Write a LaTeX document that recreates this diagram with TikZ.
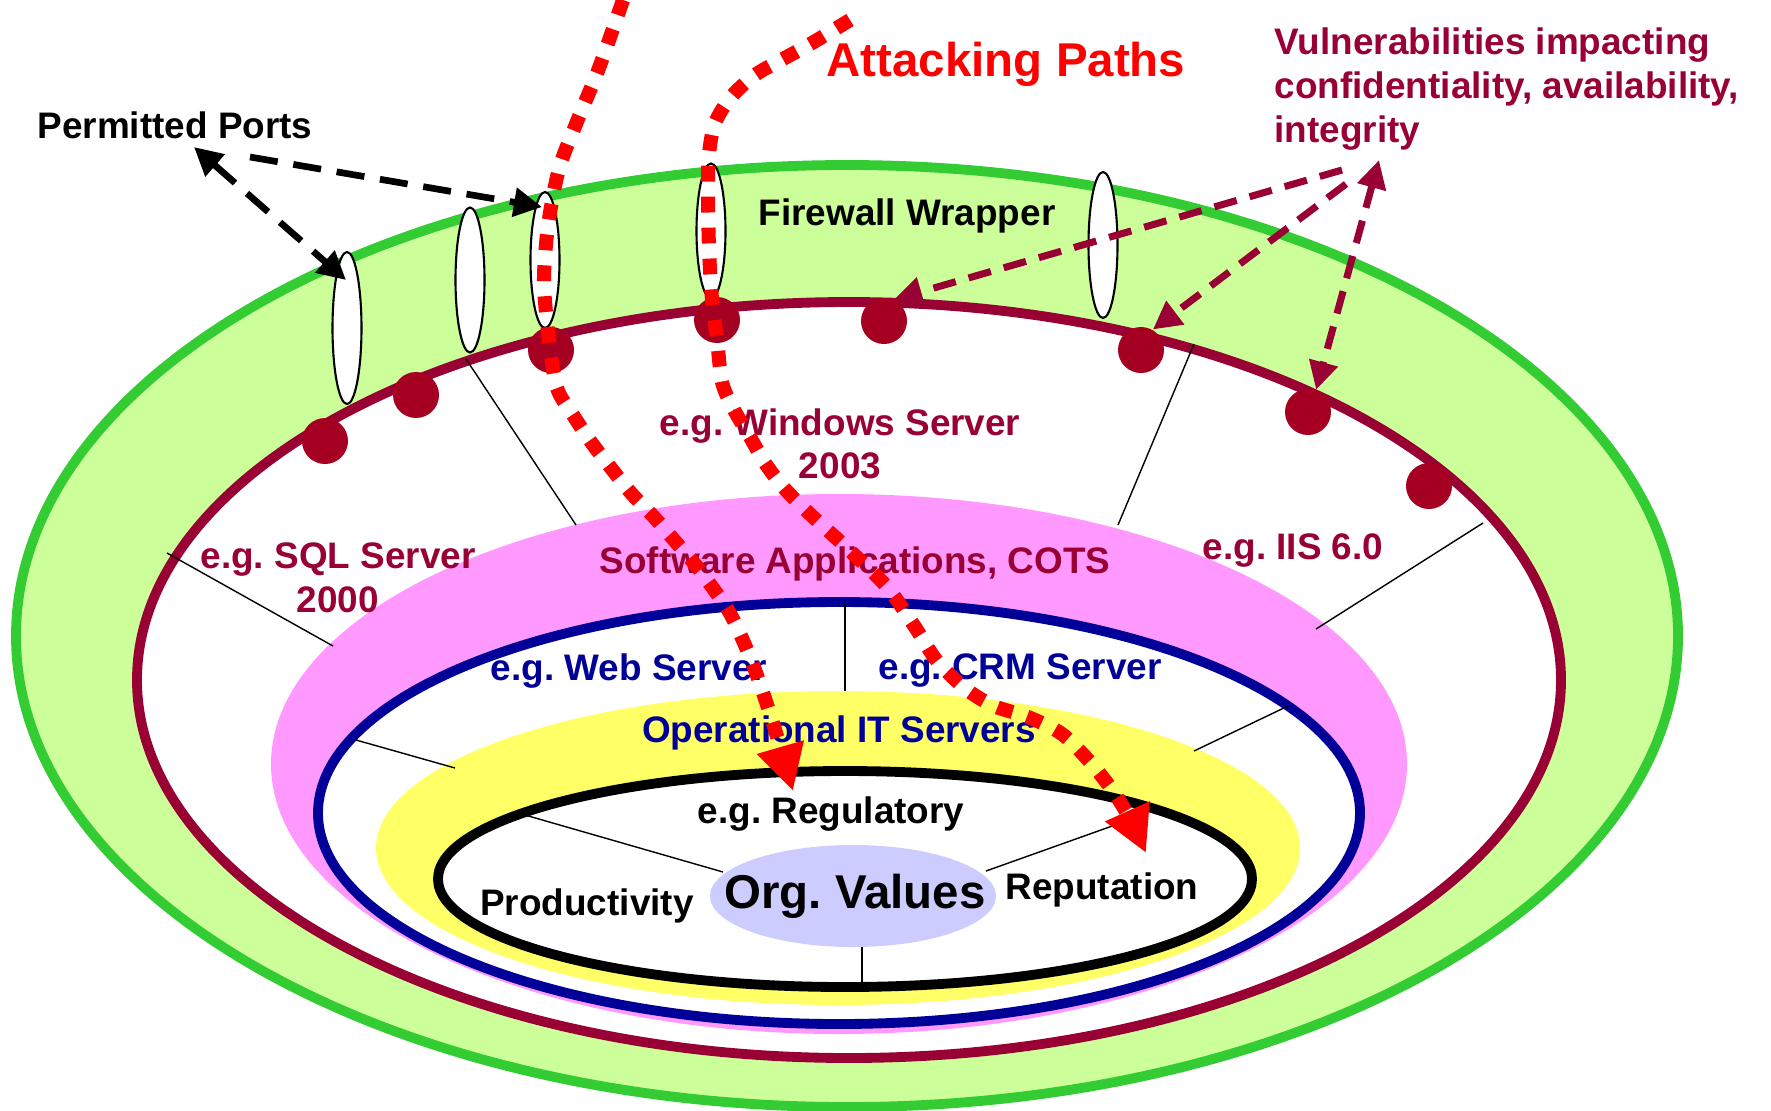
\documentclass[tikz,border=0pt]{standalone}
\usepackage{fontspec}
\setmainfont{Liberation Sans}
\usepackage{tikz}
\usetikzlibrary{arrows.meta, shapes.geometric}
\definecolor{wrapgreen}{RGB}{51,204,51}
\definecolor{wrapfill}{RGB}{204,255,153}
\definecolor{hostred}{RGB}{153,0,51}
\definecolor{vulnred}{RGB}{165,0,33}
\definecolor{appfill}{RGB}{255,153,255}
\definecolor{servblue}{RGB}{0,0,153}
\definecolor{opsfill}{RGB}{255,255,102}
\definecolor{valuefill}{RGB}{204,204,255}
\definecolor{attackred}{RGB}{255,0,0}
\frenchspacing

\begin{document}
\begin{tikzpicture}[
    x=0.1mm, y=-0.1mm,
    every node/.style={font=\bfseries\fontsize{10.5}{12.4}\selectfont, inner sep=0pt},
    ring/.style={line width=2.8pt},
    spoke/.style={line width=0.4pt},
    port/.style={ellipse, draw=black, fill=white, line width=0.6pt, minimum width=2.9mm},
    hole/.style={circle, fill=vulnred, minimum size=4.6mm},
    tip/.style={-{Triangle[length=8pt,width=8pt]}},
    tips/.style={{Triangle[length=8pt,width=8pt]}-{Triangle[length=8pt,width=8pt]}},
    portarrow/.style={line width=1.9pt, dash pattern=on 8pt off 4.5pt},
    vulnarrow/.style={hostred, line width=2pt, dash pattern=on 6.6pt off 3.8pt},
    attack/.style={attackred, line width=4pt, dash pattern=on 4.5pt off 4.3pt,
        -{Triangle[length=13pt,width=13pt]}},
    hostlabel/.style={text=hostred, align=center},
    servlabel/.style={text=servblue, align=center}
]
    \useasboundingbox (0,0) rectangle (1771,1110);

    % layers, outside in
    \draw[wrapgreen, fill=wrapfill, ring] (847,636) ellipse [x radius=831, y radius=471];
    \draw[hostred, fill=white, ring] (849,680) ellipse [x radius=712, y radius=378];
    \fill[appfill] (839,764) ellipse [x radius=568, y radius=270];
    \draw[servblue, fill=white, ring] (839,813) ellipse [x radius=521, y radius=211];
    \fill[opsfill] (838,848) ellipse [x radius=462, y radius=157];
    \draw[black, fill=white, ring] (845,879) ellipse [x radius=407, y radius=108];
    \fill[valuefill] (853,896) ellipse [x radius=143, y radius=51];

    % spokes
    \draw[spoke] (466,359) -- (576,525);
    \draw[spoke] (1194,344) -- (1118,525);
    \draw[spoke] (167,553) -- (333,646);
    \draw[spoke] (1483,523) -- (1316,629);
    \draw[spoke] (356,740) -- (455,768);
    \draw[spoke] (1288,706) -- (1194,751);
    \draw[spoke] (845,604) -- (845,691);
    \draw[spoke] (525,815) -- (723,872);
    \draw[spoke] (986,871) -- (1115,825);
    \draw[spoke] (862,947) -- (862,988);

    % vulnerabilities on the host ring
    \node[hole] (h1) at (325,441) {};
    \node[hole] (h2) at (416,395) {};
    \node[hole] (h3) at (551,350) {};
    \node[hole] (h4) at (717,320) {};
    \node[hole] (h5) at (884,321) {};
    \node[hole] (h6) at (1141,350) {};
    \node[hole] (h7) at (1308,412) {};
    \node[hole] (h8) at (1429,486) {};

    % ports through the wrapper
    \node[port, minimum height=15.2mm] (port1) at (347,328) {};
    \node[port, minimum height=14.5mm] (port2) at (470,280) {};
    \node[port, minimum height=13.6mm] (port3) at (545,260) {};
    \node[port, minimum height=13.5mm] (port4) at (711,231) {};
    \node[port, minimum height=14.6mm] (port5) at (1103,245) {};

    % labels
    \node (permitted) at (175,125) {Permitted Ports};
    \node (wrapper) at (907,216) {Firewall Wrapper};
    \node[text=attackred, font=\bfseries\fontsize{13.5}{16}\selectfont] (attacking) at (1006,64) {Attacking Paths};
    \node[hostlabel, anchor=west, align=left] (vuln) at (1274,89)
        {Vulnerabilities impacting\\confidentiality, availability,\\integrity};
    \node[hostlabel] (windows) at (840,444) {e.g. Windows Server\\2003};
    \node[hostlabel] (sql) at (338,578) {e.g. SQL Server\\2000};
    \node[hostlabel] (iis) at (1293,551) {e.g. IIS 6.0};
    \node[hostlabel] (apps) at (855,564) {Software Applications, COTS};
    \node[servlabel] (web) at (629,671) {e.g. Web Server};
    \node[servlabel] (crm) at (1020,671) {e.g. CRM Server};
    \node[servlabel] (ops) at (839,733) {Operational IT Servers};
    \node (regulatory) at (831,814) {e.g. Regulatory};
    \node (productivity) at (587,906) {Productivity};
    \node (reputation) at (1102,890) {Reputation};
    \node[font=\bfseries\fontsize{13.5}{16}\selectfont] (values) at (855,896) {Org. Values};

    % pointers
    \coordinate (ppapex) at (194,147);
    \coordinate (ppfork) at (250,157);
    \coordinate (pp1) at (346,280);
    \coordinate (pp3) at (542,207);
    \draw[portarrow, tips] (ppapex) -- (pp1);
    \draw[portarrow, tip] (ppfork) -- (pp3);

    \coordinate (vapex) at (1379,160);
    \coordinate (vfork1) at (1342,170);
    \coordinate (vfork2) at (1346,184);
    \draw[vulnarrow, tips] (vapex) -- (h7.70);
    \draw[vulnarrow, tip] (vfork1) -- (h5.65);
    \draw[vulnarrow, tip] (vfork2) -- (h6.60);

    % attacking paths
    \coordinate (atk1) at (623,0);
    \coordinate (hit1) at (793,791);
    \coordinate (atk2) at (850,20);
    \coordinate (hit2) at (1146,853);
    \draw[attack] plot[smooth] coordinates {(atk1) (599,68) (576,124) (559,169) (548,226)
        (544,282) (549,340) (557,388) (573,415) (591,442) (611,468) (631,493) (653,516)
        (674,540) (694,563) (715,591) (732,617) (752,662) (772,720) (hit1)};
    \draw[attack] plot[smooth] coordinates {(atk2) (812,43) (783,59) (755,75) (731,97)
        (715,123) (709,154) (708,192) (709,248) (712,299) (717,339) (722,382) (733,408)
        (750,437) (765,463) (784,488) (812,516) (847,548) (887,587) (915,627) (937,661)
        (966,689) (994,706) (1028,717) (1062,734) (1090,762) (1113,791) (1130,819) (hit2)};
\end{tikzpicture}
\end{document}
